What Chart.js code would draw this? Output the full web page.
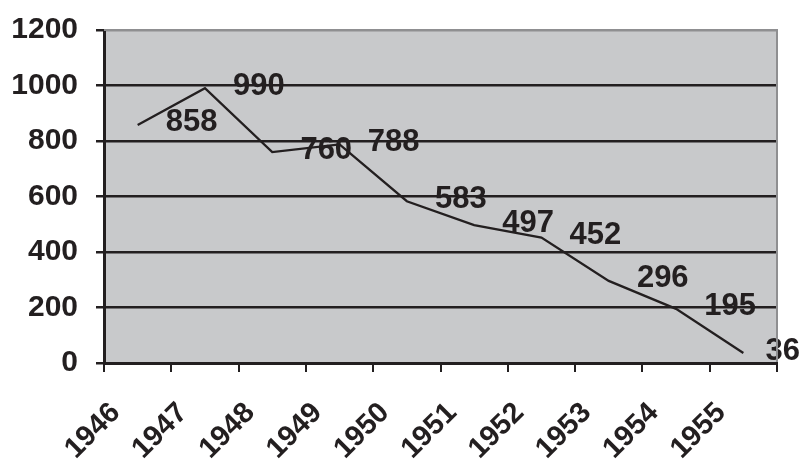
<!DOCTYPE html>
<html>
<head>
<meta charset="utf-8">
<script src="https://cdn.jsdelivr.net/npm/chart.js@4.4.1/dist/chart.umd.min.js"></script>
<style>
  html, body { margin: 0; padding: 0; background: #ffffff; }
  canvas { display: block; }
</style>
</head>
<body>
<canvas id="chart" width="803" height="459"></canvas>
<script>
// Yearly totals, 1946–1955
const years = ['1946', '1947', '1948', '1949', '1950', '1951', '1952', '1953', '1954', '1955'];
const totals = [858, 990, 760, 788, 583, 497, 452, 296, 195, 36];
const yTicks = [0, 200, 400, 600, 800, 1000, 1200];

const INK = '#231f20';
const FONT = '"Liberation Sans", Arial, sans-serif';

// Plot background and the light frame on top / right
const plotFrame = {
  id: 'plotFrame',
  beforeDraw(chart) {
    const { ctx, chartArea: a } = chart;
    ctx.save();
    ctx.fillStyle = '#c8c9cb';
    ctx.fillRect(a.left, a.top, a.right - a.left, a.bottom - a.top);
    ctx.restore();
  },
  afterDraw(chart) {
    const { ctx, chartArea: a } = chart;
    ctx.save();
    ctx.strokeStyle = '#8f8f91';
    ctx.lineWidth = 2;
    ctx.beginPath();
    ctx.moveTo(a.left, a.top);
    ctx.lineTo(a.right, a.top);
    ctx.lineTo(a.right, a.bottom - 1);
    ctx.stroke();
    ctx.restore();
  }
};

// Value labels written beside each point, kept inside the canvas
const valueLabels = {
  id: 'valueLabels',
  afterDatasetsDraw(chart) {
    const { ctx } = chart;
    const meta = chart.getDatasetMeta(0);
    const values = chart.data.datasets[0].data;
    ctx.save();
    ctx.fillStyle = INK;
    ctx.font = 'bold 31px ' + FONT;
    ctx.textAlign = 'center';
    ctx.textBaseline = 'middle';
    meta.data.forEach((pt, i) => {
      const text = String(values[i]);
      const half = ctx.measureText(text).width / 2;
      const x = Math.min(pt.x + 54, chart.width - 3 - half);
      ctx.fillText(text, x, pt.y - 2);
    });
    ctx.restore();
  }
};

new Chart(document.getElementById('chart'), {
  type: 'line',
  data: {
    labels: years,
    datasets: [{
      data: totals,
      borderColor: INK,
      borderWidth: 2.3,
      pointRadius: 0,
      tension: 0,
      fill: false
    }]
  },
  options: {
    responsive: false,
    animation: false,
    devicePixelRatio: 1,
    layout: { padding: { top: 30, right: 26, left: 0, bottom: 0 } },
    plugins: {
      legend: { display: false },
      tooltip: { enabled: false }
    },
    scales: {
      x: {
        type: 'category',
        offset: true,
        grid: {
          offset: true,
          drawOnChartArea: false,
          drawTicks: true,
          tickLength: 9,
          color: INK,
          lineWidth: 2
        },
        border: { display: true, color: INK, width: 3 },
        ticks: {
          color: INK,
          font: { family: FONT, size: 29, weight: 'bold' },
          minRotation: 45,
          maxRotation: 45,
          autoSkip: false,
          padding: 24,
          labelOffset: -22
        },
        afterFit(scale) {
          scale.height = 96;
          scale.paddingLeft = 0;
          scale.paddingRight = 0;
        }
      },
      y: {
        min: 0,
        max: 1200,
        afterBuildTicks(scale) { scale.ticks = yTicks.map(v => ({ value: v })); },
        grid: {
          color: ctx => (ctx.tick && ctx.tick.value === 1200 ? '#8f8f91' : INK),
          lineWidth: 2.5,
          drawTicks: true,
          tickLength: 8,
          tickColor: INK
        },
        border: { display: true, color: INK, width: 3 },
        ticks: {
          color: INK,
          font: { family: FONT, size: 30, weight: 'bold' },
          padding: 18,
          callback: v => String(v)
        },
        afterFit(scale) {
          scale.width = 104;
          scale.paddingTop = 0;
          scale.paddingBottom = 0;
        }
      }
    }
  },
  plugins: [plotFrame, valueLabels]
});
</script>
</body>
</html>
